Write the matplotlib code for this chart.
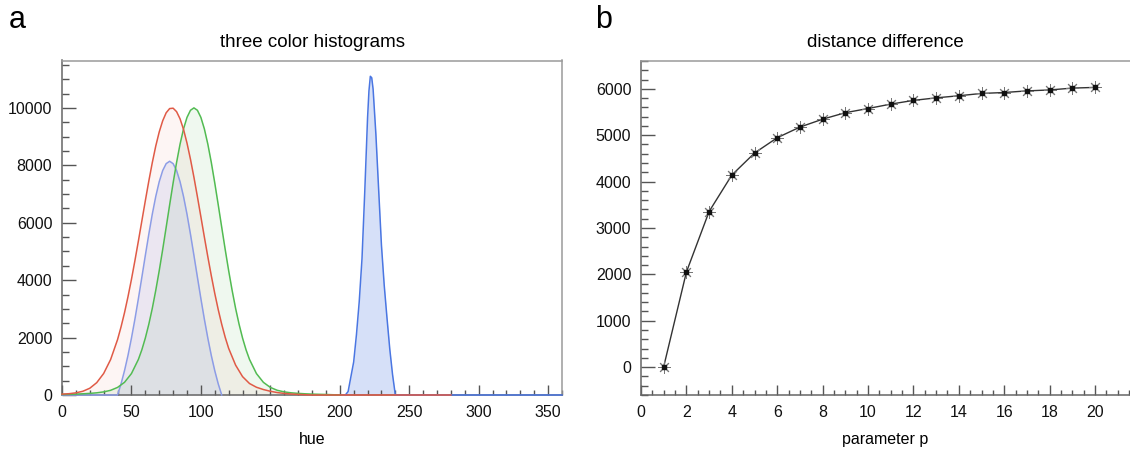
import numpy as np
import matplotlib
matplotlib.use("Agg")
import matplotlib.pyplot as plt
from matplotlib.ticker import MultipleLocator

plt.rcParams["font.family"] = ["Liberation Sans", "DejaVu Sans"]

# panel a: hue histograms (counts)
red_hue = [0, 5, 10, 15, 20, 25, 30, 35, 40, 42.5, 45, 47.5, 50, 52.5, 55,
           57.5, 60, 62.5, 65, 67.5, 70, 72.5, 75, 77.5, 80, 82.5, 85, 87.5,
           90, 92.5, 95, 97.5, 100, 102.5, 105, 107.5, 110, 112.5, 115,
           117.5, 120, 125, 130, 135, 140, 145, 150, 155, 160, 165, 170,
           175, 180, 280]
red_counts = [30, 45, 75, 130, 235, 430, 750, 1235, 1930, 2370, 2865, 3420,
              4026, 4680, 5363, 6065, 6767, 7450, 8090, 8670, 9161, 9550,
              9829, 9976, 9989, 9868, 9618, 9250, 8773, 8210, 7581, 6905,
              6206, 5500, 4813, 4155, 3536, 2970, 2462, 2010, 1623, 1040, 640,
              400, 270, 190, 130, 85, 55, 35, 20, 10, 0, 0]

green_hue = [0, 5, 10, 15, 20, 25, 30, 35, 40, 45, 50, 55, 57.5, 60, 62.5,
             65, 67.5, 70, 72.5, 75, 77.5, 80, 82.5, 85, 87.5, 90, 92.5, 95,
             97.5, 100, 102.5, 105, 107.5, 110, 112.5, 115, 117.5, 120,
             122.5, 125, 127.5, 130, 132.5, 135, 140, 145, 150, 155, 160,
             165, 170, 175, 180, 185, 190, 200]
green_counts = [18, 24, 31, 42, 56, 76, 108, 163, 264, 441, 746, 1239, 1576,
                1983, 2463, 3015, 3642, 4329, 5068, 5840, 6620, 7383, 8099,
                8737, 9268, 9668, 9916, 10000, 9916, 9668, 9268, 8737, 8099,
                7383, 6620, 5840, 5068, 4329, 3642, 3015, 2463, 1983, 1576,
                1239, 746, 441, 264, 163, 108, 76, 56, 42, 31, 24, 18, 0]

blue_hue = [0, 40, 42.5, 45, 47.5, 50, 52.5, 55, 57.5, 60, 62.5, 65, 67.5,
            70, 72.5, 75, 77.5, 80, 82.5, 85, 87.5, 90, 92.5, 95, 97.5, 100,
            102.5, 105, 107.5, 110, 112.5, 115,
            204, 206, 208, 210, 212, 214, 216, 218, 220, 221, 222, 223, 224,
            226, 228, 230, 232, 234, 236, 238, 240, 360]
blue_counts = [0, 0, 386, 845, 1376, 1979, 2641, 3356, 4102, 4860, 5599, 6296,
               6913, 7428, 7817, 8058, 8140, 8058, 7817, 7428, 6913, 6296,
               5599, 4860, 4102, 3356, 2641, 1979, 1376, 845, 386, 0,
               0, 120, 635, 1150, 2100, 3250, 4750, 7100, 9650, 10590, 11100,
               11050, 10650, 9080, 7140, 5220, 3820, 2680, 1600, 710, 0, 0]

# panel b: distance difference vs parameter p
p_values = list(range(1, 21))
dist_diff = [10, 2050, 3355, 4140, 4615, 4945, 5175, 5345, 5485, 5575,
             5670, 5750, 5805, 5850, 5900, 5920, 5955, 5975, 6015, 6030]

RED = "#e05a46"
GREEN = "#52bb52"
BLUE = "#4a76e2"
LAVENDER = "#8c9ce6"


def style_axes(ax):
    for side in ["top", "right"]:
        ax.spines[side].set_color("#9a9a9a")
    for side in ["left", "bottom"]:
        ax.spines[side].set_color("#666666")
    for s in ax.spines.values():
        s.set_linewidth(1.1)
    ax.tick_params(which="both", direction="in", colors="#555555",
                   labelcolor="#111111", labelsize=11.5, width=1.0)
    ax.tick_params(axis="y", which="major", length=10, pad=7)
    ax.tick_params(axis="y", which="minor", length=5.3)
    ax.tick_params(axis="x", which="major", length=7, pad=7)
    ax.tick_params(axis="x", which="minor", length=3.4)


fig = plt.figure(figsize=(11.3, 4.49), dpi=100)

# ---- panel a
ax1 = fig.add_axes([62 / 1130, 1 - 395 / 449, 500 / 1130, 334.5 / 449])
bh = np.array(blue_hue)
bc = np.array(blue_counts)
low = bh <= 150
ax1.fill_between(green_hue, green_counts, color=GREEN, alpha=0.09, lw=0)
ax1.fill_between(red_hue, red_counts, color=RED, alpha=0.06, lw=0)
ax1.fill_between(bh[low], bc[low], color="#5a70e0", alpha=0.11, lw=0)
ax1.fill_between(bh[~low], bc[~low], color="#3f6fe0", alpha=0.21, lw=0)
ax1.plot(bh[low], bc[low], color=LAVENDER, lw=1.1, clip_on=False, zorder=3)
ax1.plot(bh[~low], bc[~low], color=BLUE, lw=1.1, clip_on=False, zorder=3)
ax1.plot(green_hue, green_counts, color=GREEN, lw=1.1, clip_on=False, zorder=3)
ax1.plot(red_hue, red_counts, color=RED, lw=1.1, clip_on=False, zorder=3)

ax1.set_xlim(0, 360)
ax1.set_ylim(0, 11650)
ax1.xaxis.set_major_locator(MultipleLocator(50))
ax1.xaxis.set_minor_locator(MultipleLocator(10))
ax1.yaxis.set_major_locator(MultipleLocator(2000))
ax1.yaxis.set_minor_locator(MultipleLocator(500))
style_axes(ax1)
ax1.set_title("three color histograms", fontsize=13.5, pad=10)
ax1.set_xlabel("hue", fontsize=11.5, labelpad=9)

# ---- panel b
ax2 = fig.add_axes([641 / 1130, 1 - 395 / 449, 489 / 1130, 334.5 / 449])
ax2.plot(p_values, dist_diff, color="#333333", lw=1.0, zorder=3)
ax2.plot(p_values, dist_diff, ls="none", marker=(8, 2, 0), ms=9, mew=0.7,
         color="#777777", zorder=4)
ax2.plot(p_values, dist_diff, ls="none", marker="s", ms=2.6,
         color="#111111", zorder=5)
ax2.set_xlim(0, 21.54)
ax2.set_ylim(-600, 6610)
ax2.xaxis.set_major_locator(MultipleLocator(2))
ax2.xaxis.set_minor_locator(MultipleLocator(0.5))
ax2.yaxis.set_major_locator(MultipleLocator(1000))
ax2.yaxis.set_minor_locator(MultipleLocator(200))
style_axes(ax2)
ax2.spines["right"].set_visible(False)
ax2.set_title("distance difference", fontsize=13.5, pad=10)
ax2.set_xlabel("parameter p", fontsize=11.5, labelpad=9)

fig.text(0.008, 0.955, "a", fontsize=22, va="center")
fig.text(0.527, 0.955, "b", fontsize=22, va="center")

fig.savefig("out.png", dpi=100)
